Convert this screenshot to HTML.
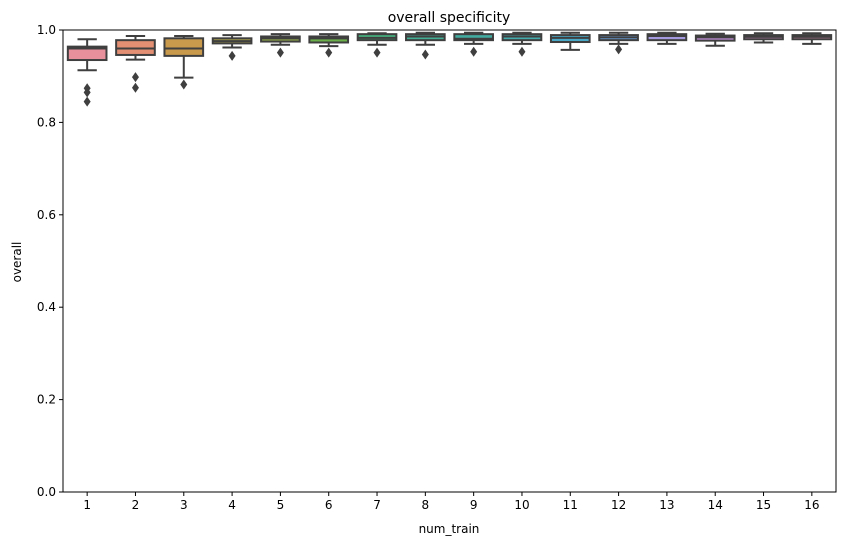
<!DOCTYPE html>
<html><head><meta charset="utf-8"><style>
body{margin:0;background:#fff}
svg text{font-family:"DejaVu Sans","Liberation Sans",sans-serif;fill:#000}
</style></head><body>
<svg id="chart" width="846" height="545" xmlns="http://www.w3.org/2000/svg">
<text x="449" y="22" font-size="14" text-anchor="middle">overall specificity</text>
<text x="449" y="533" font-size="12" text-anchor="middle">num_train</text>
<text x="0" y="0" font-size="12" text-anchor="middle" transform="translate(21,262) rotate(-90)">overall</text>
<g id="marks"></g>
<rect x="63" y="30" width="773" height="462" fill="none" stroke="#000" stroke-width="1"/>
</svg>
<script>
const categories=["1","2","3","4","5","6","7","8","9","10","11","12","13","14","15","16"];
const whiskerLow=[0.913,0.936,0.897,0.962,0.968,0.965,0.968,0.968,0.970,0.970,0.957,0.970,0.970,0.966,0.973,0.970];
const q1=[0.935,0.946,0.944,0.971,0.975,0.973,0.978,0.978,0.978,0.978,0.974,0.978,0.978,0.977,0.980,0.980];
const medians=[0.960,0.960,0.960,0.976,0.982,0.982,0.983,0.986,0.981,0.986,0.983,0.984,0.987,0.984,0.985,0.985];
const q3=[0.964,0.978,0.982,0.982,0.986,0.986,0.991,0.991,0.991,0.991,0.989,0.989,0.991,0.988,0.989,0.989];
const whiskerHigh=[0.980,0.987,0.987,0.989,0.991,0.991,0.993,0.994,0.994,0.994,0.994,0.994,0.994,0.992,0.993,0.993];
const outliers=[[0.874,0.865,0.845],[0.898,0.875],[0.882],[0.944],[0.951],[0.951],[0.951],[0.947],[0.953],[0.953],[],[0.958],[],[],[],[]];
const yTicks=[0,0.2,0.4,0.6,0.8,1.0];
const yTickLabels=["0.0","0.2","0.4","0.6","0.8","1.0"];
const colors=["#e8919c","#e38f73","#c99a4c","#aca24a","#92a94a","#6aaf4a","#45b07e","#43ae93","#43aca1","#44abad","#48a8c5","#6a9fdc","#a59ae0","#c491dc","#d98fcd","#e48fb5"];
const L=63,R=836,T=30,B=492;
const step=(R-L)/categories.length;
const xs=i=>L+step*(i+0.5);
const ys=v=>B-(B-T)*v;
const NS="http://www.w3.org/2000/svg";
const svg=document.getElementById('chart');
const g=document.getElementById('marks');
function mk(tag,attrs,parent){const e=document.createElementNS(NS,tag);for(const k in attrs)e.setAttribute(k,attrs[k]);(parent||g).appendChild(e);return e;}
yTicks.forEach((v,i)=>{
 const t=mk('line',{x1:L-4,x2:L,y1:ys(v),y2:ys(v),stroke:'#000'});
 
 
 const tx=mk('text',{x:L-7,y:ys(v)+4,'font-size':12,'text-anchor':'end'});
 tx.textContent=yTickLabels[i];
 
 
});
const bw=step*0.8, c='#3f3f3f';
categories.forEach((cat,i)=>{
 const x=xs(i);
 const t=mk('line',{x1:x,x2:x,y1:B,y2:B+4,stroke:'#000'});
 
 
 const tx=mk('text',{x:x,y:B+17,'font-size':12,'text-anchor':'middle'});
 tx.textContent=cat;
 
 
 const grp=mk('g',{});
 
 
 mk('line',{x1:x,x2:x,y1:ys(whiskerHigh[i]),y2:ys(q3[i]),stroke:c,'stroke-width':2},grp);
 mk('line',{x1:x,x2:x,y1:ys(q1[i]),y2:ys(whiskerLow[i]),stroke:c,'stroke-width':2},grp);
 mk('line',{x1:x-bw/4,x2:x+bw/4,y1:ys(whiskerHigh[i]),y2:ys(whiskerHigh[i]),stroke:c,'stroke-width':2},grp);
 mk('line',{x1:x-bw/4,x2:x+bw/4,y1:ys(whiskerLow[i]),y2:ys(whiskerLow[i]),stroke:c,'stroke-width':2},grp);
 mk('rect',{x:x-bw/2,y:ys(q3[i]),width:bw,height:Math.max(ys(q1[i])-ys(q3[i]),0.5),fill:colors[i],stroke:c,'stroke-width':2},grp);
 mk('line',{x1:x-bw/2,x2:x+bw/2,y1:ys(medians[i]),y2:ys(medians[i]),stroke:c,'stroke-width':2},grp);
 outliers[i].forEach(v=>{
  const y=ys(v);
  const d=mk('polygon',{points:`${x},${y-5} ${x+3.5},${y} ${x},${y+5} ${x-3.5},${y}`,fill:c},grp);
  
  
 });
});
</script>
</body></html>
